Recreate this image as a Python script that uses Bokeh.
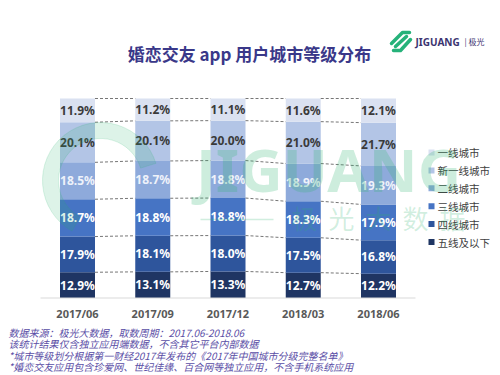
from bokeh.plotting import figure
from bokeh.models import ColumnDataSource, Range1d, Label
from bokeh.core.properties import value
from bokeh.embed import file_html
from bokeh.resources import INLINE
import numpy as np

# ---------------- data ----------------
periods = ["2017/06", "2017/09", "2017/12", "2018/03", "2018/06"]
tiers = ["五线及以下", "四线城市", "三线城市", "二线城市", "新一线城市", "一线城市"]
tier5 = [12.9, 13.1, 13.3, 12.7, 12.2]
tier4 = [17.9, 18.1, 18.0, 17.5, 16.8]
tier3 = [18.7, 18.8, 18.8, 18.3, 17.9]
tier2 = [18.5, 18.7, 18.8, 18.9, 19.3]
tier_new1 = [20.1, 20.1, 20.0, 21.0, 21.7]
tier1 = [11.9, 11.2, 11.1, 11.6, 12.1]
series = [tier5, tier4, tier3, tier2, tier_new1, tier1]

title = "婚恋交友 app 用户城市等级分布"
notes = [
    "数据来源：极光大数据，取数周期：2017.06-2018.06",
    "该统计结果仅含独立应用端数据，不含其它平台内部数据",
    "*城市等级划分根据第一财经2017年发布的《2017年中国城市分级完整名单》",
    "*婚恋交友应用包含珍爱网、世纪佳缘、百合网等独立应用，不含手机系统应用",
]

colors = ["#1f3563", "#2e559c", "#4674c4", "#8eaadb", "#b3c5e6", "#dae1f1"]
label_colors = ["#ffffff", "#ffffff", "#ffffff", "#eef2fa", "#3a3a3a", "#3a3a3a"]

# ---------------- geometry ----------------
W, H = 500, 375
XC0, XS = 77.0, 75.25      # pixel of first bar centre, pixels per category
Y0, YS = 297.5, 1.995      # pixel of 0%, pixels per percent


def dx(px):
    return (px - XC0) / XS


def dy(py):
    return (Y0 - py) / YS


CJK = value("Noto Sans CJK SC")

p = figure(width=W, height=H, output_backend="svg", toolbar_location=None,
           x_range=Range1d(dx(0), dx(W)), y_range=Range1d(dy(H), dy(0)),
           x_axis_location=None, y_axis_location=None, min_border=0)
p.grid.visible = False
p.outline_line_color = None
p.background_fill_color = "white"
p.border_fill_color = "white"

n = len(periods)
xs = list(range(n))
keys = ["t5", "t4", "t3", "t2", "tn1", "t1"]
data = {"x": xs}
for k, s in zip(keys, series):
    data[k] = s
src = ColumnDataSource(data)

bw = 35 / XS
p.vbar_stack(keys, x="x", width=bw, color=colors, line_color=None, source=src)

# axis baseline
p.segment(x0=[dx(40)], y0=[0], x1=[dx(415)], y1=[0], line_color="#d9d9d9", line_width=1)

# dashed connectors between bars
arr = np.array(series)
cum = np.cumsum(arr, axis=0)
sx0, sy0, sx1, sy1 = [], [], [], []
for k in range(cum.shape[0]):
    for i in range(n - 1):
        sx0.append(i + bw / 2)
        sy0.append(cum[k, i])
        sx1.append(i + 1 - bw / 2)
        sy1.append(cum[k, i + 1])
p.segment(x0=sx0, y0=sy0, x1=sx1, y1=sy1, line_color="#666666",
          line_width=0.9, line_dash="3 2")

# value labels
bottoms = cum - arr
lx, ly, lt, lc = [], [], [], []
for k in range(arr.shape[0]):
    for i in range(n):
        lx.append(i)
        ly.append(bottoms[k, i] + arr[k, i] / 2)
        lt.append(f"{arr[k, i]:.1f}%")
        lc.append(label_colors[k])
p.text(x=lx, y=ly, text=lt, text_color=lc, text_align="center",
       text_baseline="middle", text_font=value("Noto Sans"),
       text_font_size="12px", text_font_style="bold")

# category labels
p.text(x=xs, y=[dy(313)] * n, text=periods, text_align="center",
       text_baseline="middle", text_font=value("Noto Sans"),
       text_font_size="11px", text_font_style="bold", text_color="#595959")

# legend (top to bottom: 一线 ... 五线)
leg_names = tiers[::-1]
leg_cols = colors[::-1]
leg_y = [dy(152 + 17.9 * i) for i in range(len(leg_names))]
p.scatter(x=[dx(431)] * len(leg_names), y=leg_y, marker="square", size=6,
          color=leg_cols, line_color=None)
p.text(x=[dx(437)] * len(leg_names), y=leg_y, text=leg_names,
       text_baseline="middle", text_font=CJK, text_font_size="10.5px",
       text_color="#404040")

# title
p.add_layout(Label(x=dx(249), y=dy(53), text=title, text_align="center",
                   text_baseline="middle", text_font="Noto Sans CJK SC",
                   text_font_size="17px", text_font_style="bold",
                   text_color="#3a3889"))

# footnotes
for i, t in enumerate(notes):
    p.add_layout(Label(x=dx(8), y=dy(332 + 11.3 * i), text=t,
                       text_baseline="middle", text_font="Noto Sans CJK SC",
                       text_font_size="10px", text_font_style="italic",
                       text_color="#5a4ea6"))

# logo
p.multi_line(xs=[[dx(391), dx(402), dx(409)], [dx(393), dx(400), dx(410)], [dx(395), dx(406)]],
             ys=[[dy(43), dy(32), dy(32)], [dy(50), dy(50), dy(39)], [dy(46), dy(36)]],
             line_color="#26b27a", line_width=3.5, line_cap="round", line_join="round")
p.add_layout(Label(x=dx(415), y=dy(41), text="JIGUANG", text_baseline="middle",
                   text_font="Noto Sans", text_font_size="10px",
                   text_font_style="bold", text_color="#3b3470"))
p.add_layout(Label(x=dx(464), y=dy(41), text="| 极光", text_baseline="middle",
                   text_font="Noto Sans CJK SC", text_font_size="8px",
                   text_color="#3b3470"))

# watermark
p.annular_wedge(x=[dx(100)], y=[dy(180)], inner_radius=42, outer_radius=58,
                inner_radius_units="screen", outer_radius_units="screen",
                start_angle=0.3, end_angle=4.2, color="#2db36f", alpha=0.16)
p.add_layout(Label(x=dx(328), y=dy(168), text="JIGUANG", text_align="center",
                   text_baseline="middle", text_font="Noto Sans",
                   text_font_size="60px", text_font_style="bold",
                   text_color="#2db36f", text_alpha=0.24))
p.segment(x0=[dx(200)], y0=[dy(219)], x1=[dx(273)], y1=[dy(219)],
          line_color="#2db36f", line_alpha=0.22, line_width=1.5)
for i, ch in enumerate("极光大数据"):
    p.add_layout(Label(x=dx(304 + 37 * i), y=dy(217), text=ch, text_align="center",
                       text_baseline="middle", text_font="Noto Sans CJK SC",
                       text_font_size="26px", text_color="#2db36f",
                       text_alpha=0.22))

open("out.html", "w").write(file_html(p, INLINE))
